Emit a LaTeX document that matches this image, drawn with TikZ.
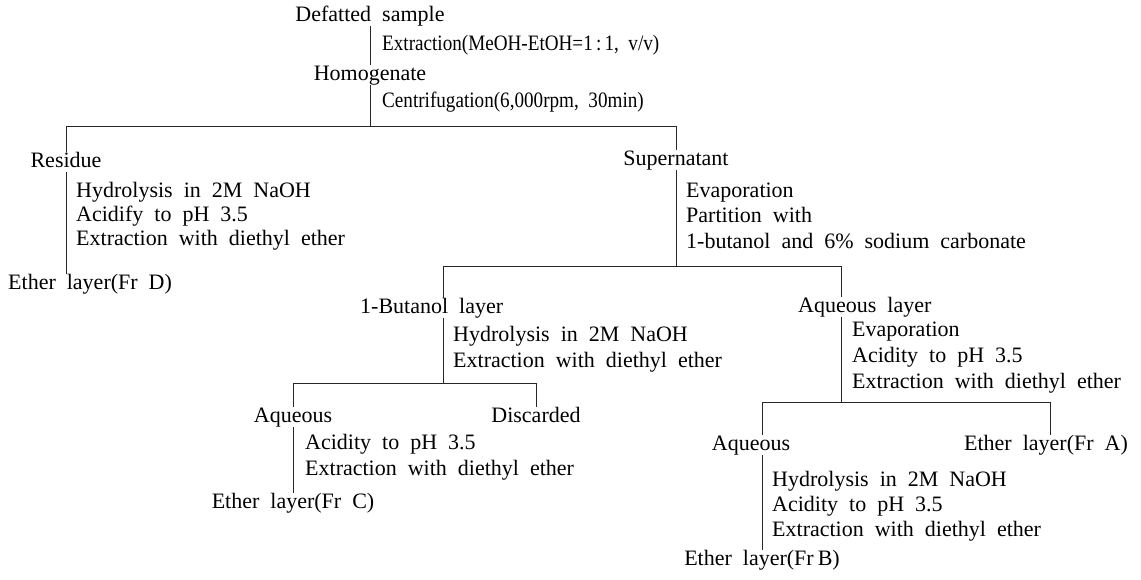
\documentclass[tikz,border=0pt]{standalone}
\usepackage{fontspec}
\usepackage{graphicx}
\setmainfont{Liberation Serif}
\newcommand\chartfont{\fontsize{22}{25}\selectfont\spaceskip=11pt plus 2pt minus 2pt\relax}
\tikzset{
  lbl/.style={inner sep=0pt, text height=15pt, text depth=5pt, anchor=mid, font=\chartfont},
  txt/.style={inner sep=0pt, anchor=mid west, font=\chartfont},
  ln/.style={line width=1pt, black!85}
}
\begin{document}
\begin{tikzpicture}[x=1pt,y=-1pt]
\useasboundingbox[fill=white] (0,0) rectangle (1141,580);
% top
\node[lbl] (ds) at (370,19) {Defatted sample};
\node[txt] (t1) at (382,48) {\scalebox{0.87}[1]{Extraction(MeOH-EtOH=1\,:\,1, v/v)}};
\node[lbl] (hom) at (370,78) {Homogenate};
\node[txt] (t2) at (382,105) {\scalebox{0.87}[1]{Centrifugation(6,000rpm, 30min)}};
\coordinate (h1c) at (370,127);
\coordinate (h1l) at (66,127);
\coordinate (h1r) at (676,127);
% residue branch
\node[lbl] (res) at (66,165) {Residue};
\node[txt] (r1) at (76,195) {Hydrolysis in 2M NaOH};
\node[txt] (r2) at (76,219) {Acidify to pH 3.5};
\node[txt] (r3) at (76,243) {Extraction with diethyl ether};
\node[lbl, anchor=mid west] (frd) at (8,287) {Ether layer(Fr D)};
% supernatant branch
\node[lbl] (sup) at (676,163) {Supernatant};
\node[txt] (s1) at (686,195) {Evaporation};
\node[txt] (s2) at (686,220) {Partition with};
\node[txt] (s3) at (686,246) {1-butanol and 6\% sodium carbonate};
\coordinate (h2c) at (676,267);
\coordinate (h2l) at (443,267);
\coordinate (h2r) at (841,267);
% butanol branch
\node[lbl, anchor=mid west] (but) at (360,311) {1-Butanol layer};
\node[txt] (b1) at (453,339) {Hydrolysis in 2M NaOH};
\node[txt] (b2) at (453,365) {Extraction with diethyl ether};
\coordinate (h3c) at (443,383);
\coordinate (h3l) at (293,383);
\coordinate (h3r) at (536,383);
\node[lbl] (aq1) at (293,420) {Aqueous};
\node[lbl] (dis) at (536,420) {Discarded};
\node[txt] (c1) at (305,447) {Acidity to pH 3.5};
\node[txt] (c2) at (305,473) {Extraction with diethyl ether};
\node[lbl] (frc) at (293,506) {Ether layer(Fr C)};
% aqueous layer branch
\node[lbl, anchor=mid west] (aql) at (798,310) {Aqueous layer};
\node[txt] (a1) at (852,334) {Evaporation};
\node[txt] (a2) at (852,360) {Acidity to pH 3.5};
\node[txt] (a3) at (852,386) {Extraction with diethyl ether};
\coordinate (h4c) at (841,402);
\coordinate (h4l) at (762,402);
\coordinate (h4r) at (1050,402);
\node[lbl] (aq2) at (751,448) {Aqueous};
\node[lbl] (fra) at (1046,448) {Ether layer(Fr A)};
\node[txt] (e1) at (772,484) {Hydrolysis in 2M NaOH};
\node[txt] (e2) at (772,509) {Acidity to pH 3.5};
\node[txt] (e3) at (772,534) {Extraction with diethyl ether};
\node[lbl] (frb) at (762,563) {Ether layer(Fr\hspace{4pt}B)};
% connectors
\draw[ln] (ds) -- (hom);
\draw[ln] (hom) -- (h1c);
\draw[ln] (res.north) -- (h1l) -- (h1r) -- (sup.north);
\draw[ln] (res.south) -- (res.south |- frd.north);
\draw[ln] (sup.south) -- (h2c);
\draw[ln] (h2l |- but.north) -- (h2l) -- (h2r) -- (h2r |- aql.north);
\draw[ln] (h2l |- but.south) -- (h3c);
\draw[ln] (aq1.north) -- (h3l) -- (h3r) -- (dis.north);
\draw[ln] (aq1.south) -- (frc.north);
\draw[ln] (h2r |- aql.south) -- (h4c);
\draw[ln] (h4l |- aq2.north) -- (h4l) -- (h4r) -- (h4r |- fra.north);
\draw[ln] (h4l |- aq2.south) -- (frb.north);
\end{tikzpicture}
\end{document}
